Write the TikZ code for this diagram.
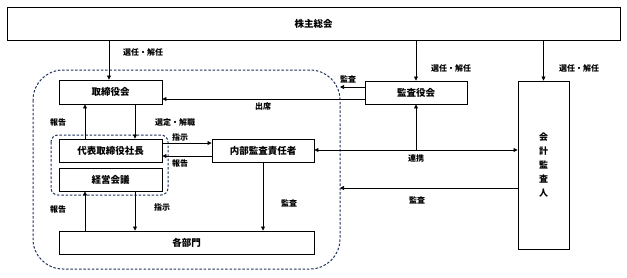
\documentclass[tikz,border=0pt]{standalone}
\usepackage{fontspec}
\setmainfont{Noto Sans CJK JP}
\usetikzlibrary{arrows.meta}
\definecolor{navy}{HTML}{1F3160}
\tikzset{
  boxn/.style={draw, line width=0.9pt, rectangle, inner sep=0pt, font=\fontsize{9.5}{10}\selectfont\bfseries},
  lbl/.style={font=\fontsize{8}{9}\selectfont\bfseries, inner sep=0pt},
  arr/.style={line width=0.75pt, -{Triangle[width=4pt,length=4pt]}},
  arrb/.style={line width=0.75pt, {Triangle[width=4pt,length=4pt]}-{Triangle[width=4pt,length=4pt]}},
  dsh/.style={draw=navy, line width=1pt, dash pattern=on 2.5pt off 1.8pt}
}
\begin{document}
\begin{tikzpicture}[x=1pt,y=-1pt]
\useasboundingbox (0,0) rectangle (627,277);
% dashed groups
\draw[dsh, rounded corners=30pt] (33,70) rectangle (340,269);
\draw[dsh, rounded corners=7pt] (51,135) rectangle (168,195);
% boxes
\node[boxn, minimum width=613pt, minimum height=33pt] (sh) at (313.5,23.5) {株主総会};
\node[boxn, minimum width=103pt, minimum height=24pt] (tr) at (110.5,92) {取締役会};
\node[boxn, minimum width=103pt, minimum height=23pt] (dai) at (110.5,150.5) {代表取締役社長};
\node[boxn, minimum width=103pt, minimum height=23pt] (kei) at (110.5,179.5) {経営会議};
\node[boxn, minimum width=102pt, minimum height=23pt] (nai) at (263,150.5) {内部監査責任者};
\node[boxn, minimum width=255pt, minimum height=23pt] (kak) at (186.5,242.5) {各部門};
\node[boxn, minimum width=102pt, minimum height=23pt] (kan) at (416,92.5) {監査役会};
\node[boxn, minimum width=51pt, minimum height=168pt, align=center, font=\fontsize{9}{14.2}\selectfont\bfseries] (kai) at (543.5,165) {会\\計\\監\\査\\人};
% free ends on dashed boundary
\coordinate (b1) at (340,87);
\coordinate (b2) at (340,188);
\coordinate (lk) at (416,150);
% arrows from shareholders
\draw[arr] (sh.south -| 109,0) -- (tr.north -| 109,0);
\draw[arr] (sh.south -| kan.north) -- (kan.north);
\draw[arr] (sh.south -| kai.north) -- (kai.north);
\node[lbl] at (143,52) {選任・解任};
\node[lbl] at (451,68) {選任・解任};
\node[lbl] at (579,68) {選任・解任};
% kansayakukai
\draw[arr] (kan.west |- b1) -- (b1);
\node[lbl] at (348,79) {監査};
\draw[arr] (kan.west |- 0,99) -- (tr.east |- 0,99);
\node[lbl] at (263,106) {出席};
% board <-> president
\draw[arr] (dai.north -| 85,0) -- (tr.south -| 85,0);
\draw[arr] (tr.south -| 135,0) -- (dai.north -| 135,0);
\node[lbl] at (58,122) {報告};
\node[lbl] at (175,122) {選定・解職};
% president <-> internal audit
\draw[arr] (dai.east |- 0,143) -- (nai.west |- 0,143);
\draw[arr] (nai.west |- 0,156) -- (dai.east |- 0,156);
\node[lbl] at (180,137) {指示};
\node[lbl] at (180,163) {報告};
% management <-> departments
\draw[arr] (kak.north -| 85,0) -- (kei.south -| 85,0);
\draw[arr] (kei.south -| 135,0) -- (kak.north -| 135,0);
\node[lbl] at (58,209) {報告};
\node[lbl] at (162,207) {指示};
% internal audit -> departments
\draw[arr] (nai.south) -- (nai.south |- kak.north);
\node[lbl] at (289,203) {監査};
% cooperation
\draw[arr] (lk) -- (kan.south);
\draw[arrb] (nai.east |- lk) -- (kai.west |- lk);
\node[lbl] at (416,158) {連携};
% accounting auditor audit
\draw[arr] (kai.west |- b2) -- (b2);
\node[lbl] at (417,200) {監査};
\end{tikzpicture}
\end{document}
